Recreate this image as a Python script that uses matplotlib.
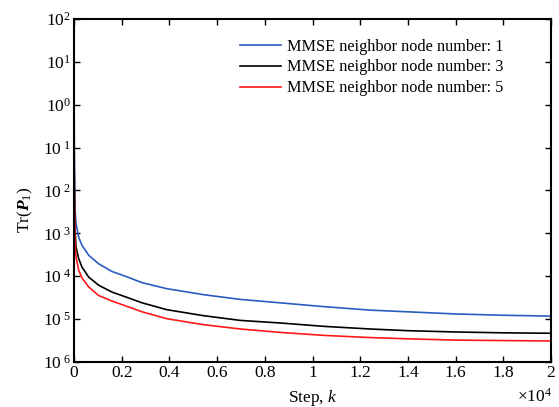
import matplotlib
matplotlib.use("Agg")
import matplotlib.pyplot as plt
from matplotlib.ticker import FixedLocator, FuncFormatter, NullLocator

# steps
steps = [0, 10, 40, 84, 196, 336, 615, 1035, 1595, 2155, 2855, 3890,
         5430, 6970, 8640, 10500, 12400, 14000, 16000, 18000, 20000]

# log10 of Tr(P_1) for each curve
log_n1 = [2.0, -1.0, -2.4, -2.77, -3.09, -3.28, -3.51, -3.71, -3.89, -4.00, -4.15, -4.29,
          -4.43, -4.54, -4.62, -4.71, -4.79, -4.83, -4.88, -4.91, -4.93]
log_n3 = [2.0, -1.5, -2.9, -3.32, -3.59, -3.79, -4.02, -4.21, -4.37, -4.48, -4.62, -4.78,
          -4.92, -5.03, -5.09, -5.17, -5.23, -5.27, -5.30, -5.32, -5.33]
log_n5 = [2.0, -1.8, -3.2, -3.55, -3.86, -4.04, -4.25, -4.45, -4.58, -4.69, -4.83, -4.99,
          -5.13, -5.23, -5.31, -5.38, -5.43, -5.46, -5.49, -5.50, -5.51]

labels = ["MMSE neighbor node number: 1",
          "MMSE neighbor node number: 3",
          "MMSE neighbor node number: 5"]
colors = ["#2a5cbf", "black", "#ff1a1a"]

y_exp = [2, 1, 0, 1, 2, 3, 4, 5, 6]  # exponents as printed (minus signs missing in source)
y_pos = [2, 1, 0, -1, -2, -3, -4, -5, -6]
x_ticks = [0, 2000, 4000, 6000, 8000, 10000, 12000, 14000, 16000, 18000, 20000]

plt.rcParams.update({
    "font.family": "Liberation Serif",
    "font.size": 12.5,
    "mathtext.fontset": "custom",
    "mathtext.rm": "Liberation Serif",
    "mathtext.it": "Liberation Serif:italic",
    "mathtext.bf": "Liberation Serif:bold:italic",
})

fig = plt.figure(figsize=(5.59, 4.07), dpi=100)
ax = fig.add_axes([0.1324, 0.1106, 0.8533, 0.8427])

for logs, lab, col in zip([log_n1, log_n3, log_n5], labels, colors):
    ax.plot(steps, [10 ** v for v in logs], color=col, linewidth=1.2, label=lab)

ax.set_yscale("log")
ax.set_xlim(0, 20000)
ax.set_ylim(1e-6, 1e2)

ax.yaxis.set_major_locator(FixedLocator([10 ** p for p in y_pos]))
ax.yaxis.set_minor_locator(NullLocator())
ax.set_yticklabels([r"$\mathregular{10^{\ %d}}$" % e if p < 0 else r"$\mathregular{10^{%d}}$" % e
                    for e, p in zip(y_exp, y_pos)])
ax.xaxis.set_major_locator(FixedLocator(x_ticks))
ax.xaxis.set_major_formatter(FuncFormatter(lambda v, _: "%g" % (v / 1e4)))

ax.tick_params(direction="in", top=True, right=True, length=4, width=1, colors="black")
ax.tick_params(axis="x", pad=2.5)
ax.tick_params(axis="y", pad=2)
for sp in ax.spines.values():
    sp.set_linewidth(1.5)

ax.set_xlabel(r"Step, $\mathit{k}$", labelpad=5)
ax.set_ylabel(r"Tr($\mathbf{P}_{\mathregular{1}}$)")
ax.yaxis.set_label_coords(-0.082, 0.443)
fig.text(0.988, 0.004, r"$\mathregular{\times10^{4}}$", ha="right", va="bottom")

ax.legend(loc="upper left", bbox_to_anchor=(0.348, 0.943), frameon=False,
          fontsize=11.7, handlelength=2.5, handletextpad=0.37,
          labelspacing=0.3, borderaxespad=0, borderpad=0)

fig.savefig("out.png", dpi=100)
